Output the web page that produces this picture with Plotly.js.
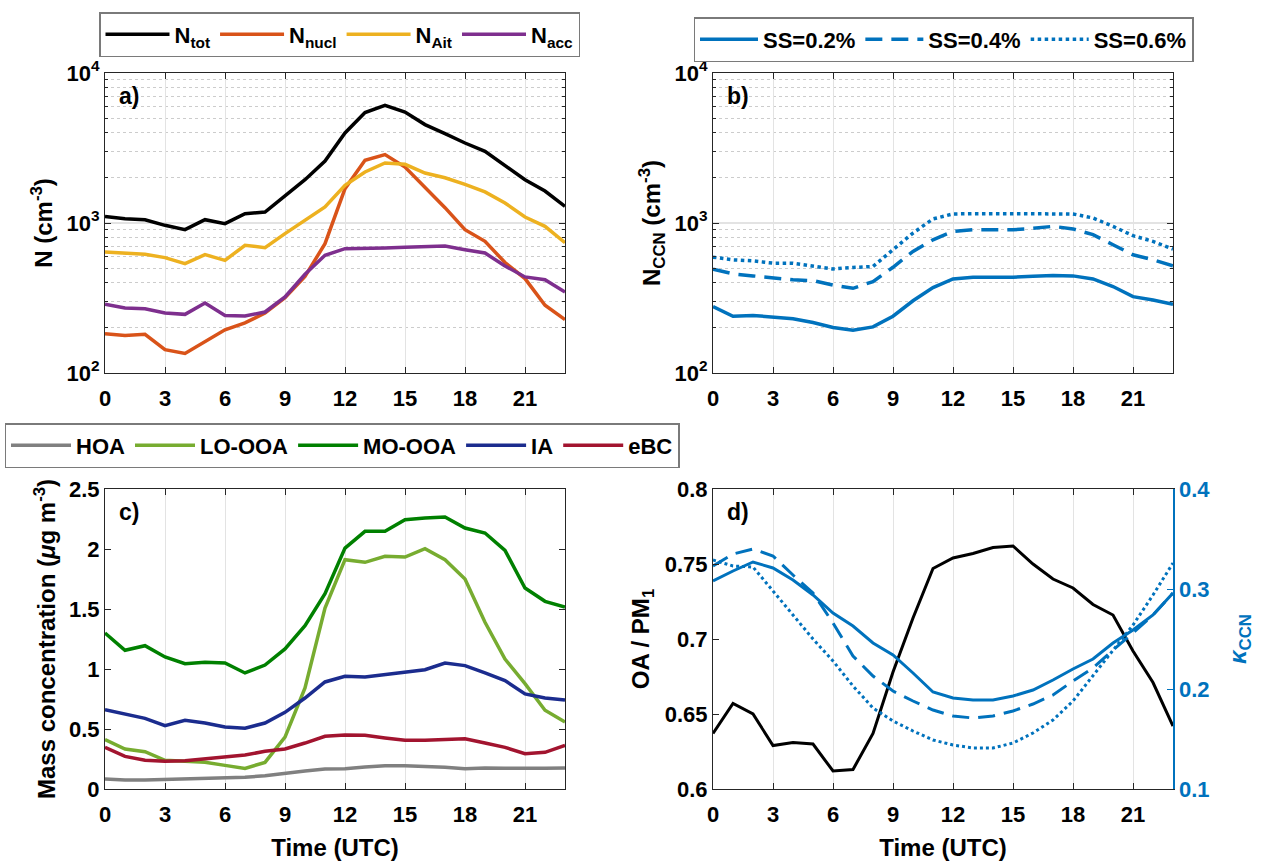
<!DOCTYPE html>
<html>
<head>
<meta charset="utf-8">
<script src="https://cdn.plot.ly/plotly-3.0.1.min.js"></script>
<style>html,body{margin:0;padding:0;background:#fff;}#chart{width:1262px;height:861px;}</style>
</head>
<body>
<div id="chart"></div>
<script>
// ---------- data ----------
const hours = [0,1,2,3,4,5,6,7,8,9,10,11,12,13,14,15,16,17,18,19,20,21,22,23];
const xTicks = [0,3,6,9,12,15,18,21];

// panel a: number concentrations (cm^-3)
const Ntot  = [1107,1069,1052,965,903,1052,990,1154,1184,1529,1945,2590,3981,5445,6085,5495,4529,3945,3415,3003,2421,1945,1634,1291];
const Nnucl = [183,178,181,143,135,163,194,216,251,318,441,728,1694,2618,2857,2362,1738,1265,903,755,545,426,283,227];
const NAit  = [641,631,618,588,536,615,564,710,685,849,1041,1278,1782,2188,2512,2461,2154,2004,1811,1611,1360,1096,950,739];
const Nacc  = [287,271,268,251,246,293,242,240,255,321,455,609,674,674,681,688,699,703,664,631,517,437,419,347];

// panel b: CCN number concentrations (cm^-3)
const ccn02 = [277,239,242,235,230,217,201,193,203,239,303,371,424,435,435,435,441,446,444,424,377,323,307,287];
const ccn04 = [492,458,444,430,418,413,386,367,407,507,646,773,879,902,902,902,921,950,913,836,716,614,568,518];
const ccn06 = [592,568,559,540,540,518,494,505,513,663,857,1064,1149,1154,1154,1142,1142,1154,1149,1080,950,823,754,670];

// panel c: mass concentrations (ug m^-3)
const HOA   = [0.083,0.075,0.075,0.078,0.086,0.089,0.092,0.097,0.111,0.133,0.150,0.167,0.169,0.183,0.194,0.194,0.189,0.181,0.169,0.175,0.172,0.169,0.172,0.175];
const LOOOA = [0.411,0.333,0.311,0.239,0.231,0.222,0.197,0.172,0.222,0.433,0.842,1.508,1.911,1.889,1.939,1.933,2.003,1.911,1.750,1.389,1.083,0.878,0.656,0.558];
const MOOOA = [1.300,1.156,1.194,1.100,1.044,1.056,1.050,0.967,1.033,1.167,1.361,1.628,2.008,2.147,2.147,2.244,2.258,2.267,2.175,2.133,1.989,1.675,1.564,1.517];
const IA    = [0.661,0.625,0.589,0.528,0.572,0.550,0.517,0.506,0.550,0.639,0.758,0.892,0.939,0.933,0.953,0.969,0.994,1.050,1.028,0.967,0.903,0.792,0.758,0.742];
const eBC   = [0.347,0.272,0.239,0.231,0.236,0.250,0.264,0.283,0.314,0.333,0.383,0.439,0.450,0.447,0.425,0.406,0.406,0.411,0.419,0.383,0.347,0.294,0.306,0.364];

// panel d: OA/PM1 (left) and kappa_CCN (right)
const OAPM1 = [0.637,0.657,0.650,0.629,0.631,0.630,0.612,0.613,0.637,0.678,0.714,0.747,0.754,0.757,0.761,0.762,0.750,0.740,0.734,0.723,0.716,0.692,0.671,0.642];
const kap02 = [0.308,0.318,0.327,0.321,0.309,0.294,0.276,0.263,0.246,0.234,0.216,0.197,0.191,0.189,0.189,0.193,0.199,0.209,0.220,0.230,0.246,0.259,0.274,0.296];
const kap04 = [0.323,0.335,0.340,0.333,0.314,0.296,0.266,0.233,0.213,0.198,0.188,0.179,0.173,0.171,0.173,0.178,0.185,0.194,0.208,0.221,0.239,0.256,0.274,0.296];
const kap06 = [0.329,0.323,0.322,0.298,0.273,0.250,0.228,0.203,0.181,0.168,0.158,0.149,0.144,0.141,0.141,0.146,0.156,0.169,0.188,0.213,0.239,0.264,0.294,0.326];

const logTickVals = [100,1000,10000];
const logTickText = ['10<sup>2</sup>','10<sup>3</sup>','10<sup>4</sup>'];
const cTickVals = [0,0.5,1,1.5,2,2.5];
const cTickText = ['0','0.5','1','1.5','2','2.5'];
const dTickVals = [0.6,0.65,0.7,0.75,0.8];
const dTickText = ['0.6','0.65','0.7','0.75','0.8'];
const kTickVals = [0.1,0.2,0.3,0.4];
const kTickText = ['0.1','0.2','0.3','0.4'];

// ---------- styling ----------
const FONT = 'Liberation Sans, Arial, Helvetica, sans-serif';
const BLUE = '#0072BD';
const AX = '#262626';
const GRID = '#e3e3e3';
const TICKF = 22;
const TITLEF = 24;
const LEGF = 22;

const minorLog = [];
[100,1000].forEach(d => { for (let k = 2; k <= 9; k++) minorLog.push(k*d); });

function line(x, y, name, color, xa, ya, legend, dash, show, w) {
  return {x: x, y: y, name: name, type: 'scatter', mode: 'lines',
    line: {color: color, width: w || 3.5, dash: dash || 'solid'},
    xaxis: xa, yaxis: ya, legend: legend, showlegend: show !== false, hoverinfo: 'skip'};
}

const traces = [
  line(hours, Ntot,  'N<sub>tot</sub>',  '#000000', 'x', 'y', 'legend'),
  line(hours, Nnucl, 'N<sub>nucl</sub>', '#D95319', 'x', 'y', 'legend'),
  line(hours, NAit,  'N<sub>Ait</sub>',  '#EDB120', 'x', 'y', 'legend'),
  line(hours, Nacc,  'N<sub>acc</sub>',  '#7E2F8E', 'x', 'y', 'legend'),

  line(hours, ccn02, 'SS=0.2%', BLUE, 'x2', 'y2', 'legend2', 'solid'),
  line(hours, ccn04, 'SS=0.4%', BLUE, 'x2', 'y2', 'legend2', '17px,9px'),
  line(hours, ccn06, 'SS=0.6%', BLUE, 'x2', 'y2', 'legend2', 'dot'),

  line(hours, HOA,   'HOA',    '#808080', 'x3', 'y3', 'legend3'),
  line(hours, LOOOA, 'LO-OOA', '#77AC30', 'x3', 'y3', 'legend3'),
  line(hours, MOOOA, 'MO-OOA', '#008000', 'x3', 'y3', 'legend3'),
  line(hours, IA,    'IA',     '#1B2C8E', 'x3', 'y3', 'legend3'),
  line(hours, eBC,   'eBC',    '#A2142F', 'x3', 'y3', 'legend3'),

  line(hours, OAPM1, 'OA/PM1', '#000000', 'x4', 'y4', 'legend', 'solid', false, 3),
  line(hours, kap02, 'κ 0.2%', BLUE, 'x4', 'y5', 'legend', 'solid', false, 3),
  line(hours, kap04, 'κ 0.4%', BLUE, 'x4', 'y5', 'legend', '17px,9px', false, 3),
  line(hours, kap06, 'κ 0.6%', BLUE, 'x4', 'y5', 'legend', 'dot', false, 3)
];

const DX_L = [105/1262, 565/1262];
const DX_R = [713/1262, 1173/1262];
const DY_T = [1-373/861, 1-73/861];
const DY_B = [1-789/861, 1-489/861];

function xax(domain, anchor, title) {
  const a = {domain: domain, anchor: anchor, range: [0,23], tickvals: xTicks,
    ticktext: xTicks.map(String), ticks: 'inside', ticklen: 6, tickcolor: AX,
    showline: true, linecolor: AX, linewidth: 1, mirror: 'ticks',
    showgrid: true, gridcolor: GRID, gridwidth: 1, zeroline: false, ticklabelstandoff: 6,
    tickfont: {size: TICKF, color: '#000'}, automargin: false, fixedrange: true};
  if (title) a.title = {text: title, font: {size: TITLEF, color: '#000'}, standoff: 14};
  return a;
}
function ylog(domain, anchor, title) {
  return {domain: domain, anchor: anchor, type: 'log', range: [2,4],
    tickvals: logTickVals, ticktext: logTickText, ticks: 'inside', ticklen: 6, tickcolor: AX,
    showline: true, linecolor: AX, linewidth: 1, mirror: 'ticks',
    showgrid: true, gridcolor: GRID, gridwidth: 1.5, zeroline: false,
    minor: {tickmode: 'array', tickvals: minorLog, ticks: 'inside', ticklen: 3, tickcolor: AX,
            showgrid: true, gridcolor: '#cccccc', griddash: 'dot', gridwidth: 1},
    tickfont: {size: TICKF, color: '#000'}, automargin: false, fixedrange: true,
    title: {text: title, font: {size: TITLEF, color: '#000'}, standoff: 7}};
}

const legBase = {orientation: 'h', xanchor: 'center', yanchor: 'top',
  bordercolor: '#7a7a7a', borderwidth: 1.5, bgcolor: '#ffffff',
  font: {size: LEGF, color: '#000'}, itemwidth: 58, traceorder: 'normal'};

const layout = {
  width: 1262, height: 861,
  margin: {l: 0, r: 0, t: 0, b: 0},
  paper_bgcolor: '#ffffff', plot_bgcolor: '#ffffff',
  font: {family: FONT, size: 20, color: '#000', weight: 'bold'},
  xaxis: xax(DX_L, 'y'),
  yaxis: ylog(DY_T, 'x', 'N (cm<sup>-3</sup>)'),
  xaxis2: xax(DX_R, 'y2'),
  yaxis2: ylog(DY_T, 'x2', 'N<sub>CCN</sub> (cm<sup>-3</sup>)'),
  xaxis3: xax(DX_L, 'y3', 'Time (UTC)'),
  yaxis3: {domain: DY_B, anchor: 'x3', range: [0,2.5], tickvals: cTickVals, ticktext: cTickText,
    ticks: 'inside', ticklen: 6, tickcolor: AX, showline: true, linecolor: AX, linewidth: 1, mirror: 'ticks',
    showgrid: false, zeroline: false, tickfont: {size: TICKF, color: '#000'}, automargin: false, fixedrange: true,
    title: {text: 'Mass concentration (<i>μ</i>g m<sup>-3</sup>)', font: {size: TITLEF, color: '#000'}, standoff: 6}},
  xaxis4: xax(DX_R, 'y4', 'Time (UTC)'),
  yaxis4: {domain: DY_B, anchor: 'x4', range: [0.6,0.8], tickvals: dTickVals, ticktext: dTickText,
    ticks: 'inside', ticklen: 6, tickcolor: AX, showline: true, linecolor: AX, linewidth: 1, mirror: false,
    showgrid: false, zeroline: false, tickfont: {size: TICKF, color: '#000'}, automargin: false, fixedrange: true,
    title: {text: 'OA / PM<sub>1</sub>', font: {size: TITLEF, color: '#000'}, standoff: 8}},
  yaxis5: {overlaying: 'y4', anchor: 'x4', side: 'right', range: [0.1,0.4], tickvals: kTickVals, ticktext: kTickText,
    ticks: 'inside', ticklen: 6, tickcolor: BLUE, showline: true, linecolor: BLUE, linewidth: 1.5,
    showgrid: false, zeroline: false, tickfont: {size: TICKF, color: BLUE}, automargin: false, fixedrange: true,
    title: {text: '<i>κ</i><sub>CCN</sub>', font: {size: TITLEF, color: BLUE}, standoff: 20}},
  legend:  Object.assign({}, legBase, {x: 339.5/1262, y: 1-12/861, itemwidth: 64}),
  legend2: Object.assign({}, legBase, {x: 943.5/1262, y: 1-17/861}),
  legend3: Object.assign({}, legBase, {x: 342/1262, y: 1-423/861, itemwidth: 60}),
  annotations: ['a)','b)','c)','d)'].map((t, i) => ({
    text: t, xref: (i ? 'x' + (i+1) : 'x') + ' domain', yref: (i ? 'y' + (i+1) : 'y') + ' domain',
    x: 0.026, y: 0.923, xanchor: 'left', yanchor: 'middle', showarrow: false, font: {size: 23}}))
};

Plotly.newPlot('chart', traces, layout, {displayModeBar: false, staticPlot: true});
</script>
</body>
</html>
